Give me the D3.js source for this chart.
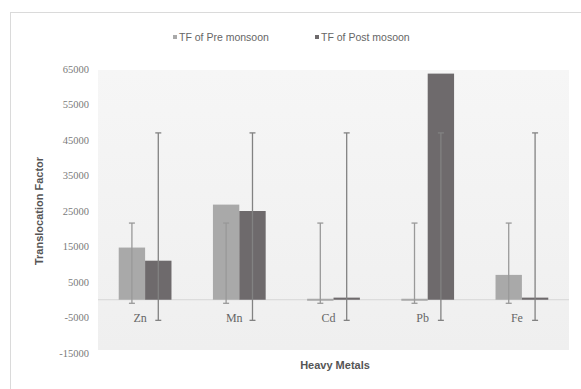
<!DOCTYPE html>
<html>
<head>
  <meta charset="utf-8">
  <title>Translocation Factor</title>
  <script src="https://d3js.org/d3.v7.min.js"></script>
  <style>
    body { margin: 0; background: #fff; }
    .yaxis text { font-family: "Liberation Serif", serif; font-size: 10.5px; fill: #7a7a7a; }
    .cat { font-family: "Liberation Serif", serif; font-size: 12px; fill: #666; }
    .title { font-family: "Liberation Sans", Arial, sans-serif; font-size: 11px; font-weight: bold; fill: #555; }
    .legend { font-family: "Liberation Sans", Arial, sans-serif; font-size: 10.5px; fill: #666; }
  </style>
</head>
<body>
<script>
  var metals = ["Zn", "Mn", "Cd", "Pb", "Fe"];
  var preMonsoon = [14700, 26800, 0, 0, 7000];
  var postMonsoon = [11000, 25000, 600, 63700, 600];
  // error bar ends (same for every metal within a series)
  var preErr = [-1000, 21600];
  var postErr = [-5800, 47000];
  var yTicks = [-15000, -5000, 5000, 15000, 25000, 35000, 45000, 55000, 65000];
  var seriesNames = ["TF of Pre monsoon", "TF of Post mosoon"];

  var series = [
    {name: seriesNames[0], values: preMonsoon, err: preErr, color: "#a9a9a9", errColor: "#999"},
    {name: seriesNames[1], values: postMonsoon, err: postErr, color: "#6e6a6c", errColor: "#828282"}
  ];

  var W = 581, H = 389;
  var plot = {left: 98, right: 569, top: 69, bottom: 353};

  var svg = d3.select("body").append("svg")
      .attr("width", W)
      .attr("height", H);

  // chart frame
  svg.append("rect")
      .attr("x", 10.5).attr("y", 12.5)
      .attr("width", W).attr("height", H)
      .attr("fill", "#fff")
      .attr("stroke", "#dadada");

  var grad = svg.append("defs").append("linearGradient")
      .attr("id", "bg").attr("x1", 0).attr("x2", 0).attr("y1", 0).attr("y2", 1);
  grad.append("stop").attr("offset", "0%").attr("stop-color", "#f6f6f6");
  grad.append("stop").attr("offset", "100%").attr("stop-color", "#efefef");

  svg.append("rect")
      .attr("x", plot.left).attr("y", 70)
      .attr("width", plot.right - plot.left).attr("height", 280)
      .attr("fill", "url(#bg)");

  var x0 = d3.scaleBand()
      .domain(metals)
      .range([plot.left, plot.right])
      .paddingInner(0.44)
      .paddingOuter(0.22);

  var x1 = d3.scaleBand()
      .domain([0, 1])
      .range([0, x0.bandwidth()]);

  var y = d3.scaleLinear()
      .domain([-15000, 65000])
      .range([plot.bottom, plot.top]);

  // zero line
  svg.append("line")
      .attr("x1", plot.left).attr("x2", plot.right)
      .attr("y1", y(0)).attr("y2", y(0))
      .attr("stroke", "#d6d6d6");

  var yAxis = d3.axisLeft(y).tickValues(yTicks).tickSize(0).tickPadding(9)
      .tickFormat(d => String(d));
  svg.append("g")
      .attr("class", "yaxis")
      .attr("transform", "translate(" + plot.left + ",0)")
      .call(yAxis)
      .attr("font-family", null)
      .attr("font-size", null)
      .call(g => g.select(".domain").remove());

  var groups = svg.append("g")
    .selectAll("g")
    .data(metals)
    .join("g")
      .attr("transform", d => "translate(" + x0(d) + ",0)");

  groups.selectAll("rect")
    .data((d, i) => series.map((s, k) => ({k: k, v: s.values[i], color: s.color})))
    .join("rect")
      .attr("x", d => x1(d.k))
      .attr("width", x1.bandwidth())
      .attr("y", d => Math.min(y(d.v), y(0) - 1))
      .attr("height", d => Math.max(Math.abs(y(0) - y(d.v)), 2))
      .attr("fill", d => d.color);

  // error bars
  var errs = groups.selectAll("g.err")
    .data((d, i) => series.map((s, k) => ({k: k, lo: s.err[0], hi: s.err[1], color: s.errColor})))
    .join("g")
      .attr("class", "err")
      .attr("transform", d => "translate(" + (x1(d.k) + x1.bandwidth() / 2) + ",0)");

  errs.append("line")
      .attr("y1", d => y(d.lo)).attr("y2", d => y(d.hi))
      .attr("stroke", d => d.color).attr("stroke-width", 1.3);
  errs.selectAll("line.cap")
    .data(d => [{v: d.lo, c: d.color}, {v: d.hi, c: d.color}])
    .join("line")
      .attr("class", "cap")
      .attr("x1", -3).attr("x2", 3)
      .attr("y1", d => y(d.v)).attr("y2", d => y(d.v))
      .attr("stroke", d => d.c).attr("stroke-width", 1.3);

  // category labels
  svg.append("g")
    .selectAll("text")
    .data(metals)
    .join("text")
      .attr("class", "cat")
      .attr("x", d => x0(d) + x0.bandwidth() / 2 - 5)
      .attr("y", y(-5000) + 4)
      .attr("text-anchor", "middle")
      .text(d => d);

  svg.append("text")
      .attr("class", "title")
      .attr("x", 335).attr("y", 369)
      .attr("text-anchor", "middle")
      .text("Heavy Metals");

  svg.append("text")
      .attr("class", "title")
      .attr("transform", "translate(43,211) rotate(-90)")
      .attr("text-anchor", "middle")
      .text("Translocation Factor");

  // legend
  var legendX = [173, 315];
  var leg = svg.append("g")
    .selectAll("g")
    .data(series)
    .join("g")
      .attr("transform", (d, i) => "translate(" + legendX[i] + ",37)");
  leg.append("rect")
      .attr("x", 0).attr("y", -2)
      .attr("width", 4).attr("height", 4)
      .attr("fill", d => d.color);
  leg.append("text")
      .attr("class", "legend")
      .attr("x", 6).attr("y", 3.5)
      .text(d => d.name);
</script>
</body>
</html>
